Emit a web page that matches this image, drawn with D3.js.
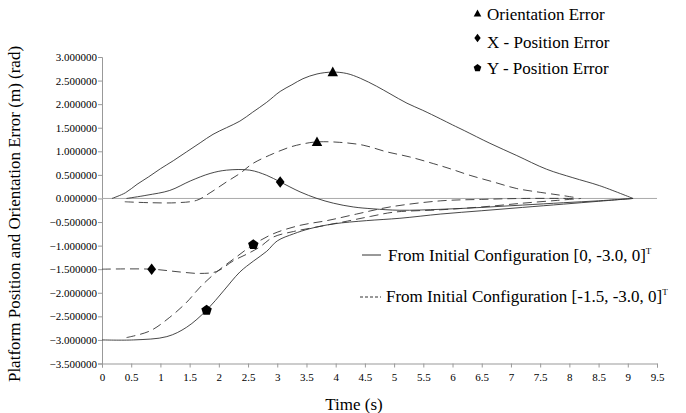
<!DOCTYPE html>
<html>
<head>
<meta charset="utf-8">
<script src="https://cdn.jsdelivr.net/npm/d3@7"></script>
<style>
  body { margin: 0; background: #fff; }
  text { font-family: "Liberation Serif", "Times New Roman", serif; fill: #000; }
</style>
</head>
<body>
<script>

// time (s), error value
const orientationA = [[0.17,0],[0.4,0.12],[0.6,0.3],[0.8,0.46],[1.0,0.63],[1.22,0.8],[1.45,0.99],[1.68,1.18],[1.9,1.36],[2.13,1.5],[2.36,1.64],[2.58,1.83],[2.82,2.04],[3.05,2.27],[3.25,2.41],[3.44,2.54],[3.68,2.64],[3.95,2.68],[4.19,2.65],[4.42,2.55],[4.7,2.38],[4.93,2.22],[5.22,2.02],[5.49,1.87],[5.79,1.69],[6.0,1.56],[6.2,1.44],[6.64,1.17],[7.1,0.91],[7.61,0.62],[8.06,0.44],[8.52,0.27],[9.09,0]]
const orientationB = [[0.39,-0.07],[0.82,-0.09],[1.28,-0.09],[1.62,-0.04],[1.85,0.12],[2.13,0.35],[2.36,0.53],[2.58,0.74],[2.93,0.95],[3.22,1.09],[3.45,1.16],[3.68,1.2],[4.07,1.19],[4.47,1.13],[4.87,0.99],[5.27,0.88],[5.67,0.74],[5.96,0.63],[6.3,0.49],[6.7,0.35],[7.1,0.21],[7.5,0.13],[7.84,0.07],[8.1,0.02]]
const xErrorA = [[0.42,0],[0.77,0.07],[1.16,0.17],[1.51,0.37],[1.85,0.53],[2.13,0.6],[2.53,0.6],[2.82,0.49],[3.05,0.35],[3.39,0.14],[3.68,0],[3.96,-0.1],[4.3,-0.18],[4.64,-0.22],[5.1,-0.25],[5.8,-0.23],[6.5,-0.19],[7.2,-0.14],[7.9,-0.09],[8.5,-0.05],[9.09,0]]
const xErrorB = [[0,-1.5],[0.85,-1.5],[1.34,-1.56],[1.68,-1.59],[1.96,-1.55],[2.25,-1.32],[2.48,-1.18],[2.7,-1.03],[2.93,-0.82],[3.28,-0.7],[3.7,-0.6],[4.2,-0.48],[4.6,-0.38],[5.0,-0.29],[5.8,-0.24],[6.5,-0.18],[7.2,-0.1],[7.8,-0.04],[8.2,0]]
const yErrorA = [[0,-3.0],[0.54,-3.0],[1.11,-2.93],[1.45,-2.73],[1.79,-2.37],[2.08,-1.96],[2.36,-1.56],[2.59,-1.33],[2.82,-1.12],[3.0,-0.9],[3.28,-0.75],[3.56,-0.64],[3.96,-0.54],[4.53,-0.47],[5.1,-0.42],[5.8,-0.33],[6.5,-0.26],[7.2,-0.19],[7.9,-0.12],[8.5,-0.06],[9.09,0]]
const yErrorB = [[0.42,-2.95],[0.82,-2.81],[1.16,-2.52],[1.45,-2.2],[1.68,-1.88],[1.96,-1.56],[2.3,-1.24],[2.59,-0.98],[2.93,-0.75],[3.39,-0.57],[3.85,-0.47],[4.36,-0.33],[4.93,-0.18],[5.8,-0.05],[6.5,-0.02],[7.2,0],[8.1,0]]

const markerPoints = [
  {shape: "triangle", t: 3.95, v: 2.68},
  {shape: "triangle", t: 3.68, v: 1.2},
  {shape: "diamond", t: 3.05, v: 0.35},
  {shape: "diamond", t: 0.85, v: -1.5},
  {shape: "pentagon", t: 1.79, v: -2.37},
  {shape: "pentagon", t: 2.59, v: -0.98}
]

const xTicks = d3.range(0, 9.51, 0.5)
const yTicks = d3.range(-3.5, 3.01, 0.5)
const markerLegend = ["Orientation Error", "X - Position Error", "Y - Position Error"]
const markerShapes = ["triangle", "diamond", "pentagon"]
const lineLegend = ["From Initial Configuration [0, -3.0, 0]", "From Initial Configuration [-1.5, -3.0, 0]"]

const width = 686, height = 413
const serif = '"Liberation Serif", "Times New Roman", serif'
const svg = d3.select("body").append("svg").attr("width", width).attr("height", height)

const x = d3.scaleLinear().domain([0, 9.5]).range([102, 657])
const y = d3.scaleLinear().domain([-3.5, 3]).range([363.5, 57])

// y axis
const yAxis = svg.append("g").attr("transform", "translate(102,0)")
  .call(d3.axisLeft(y).tickValues(yTicks).tickSize(4).tickFormat(d3.format(".6f")))
  .attr("font-family", serif)
yAxis.select(".domain").attr("stroke", "#999")
yAxis.selectAll(".tick line").attr("stroke", "#999")
yAxis.selectAll(".tick text").style("font-size", "11px").attr("x", -5)

// x axis
const xAxis = svg.append("g").attr("transform", "translate(0,363.5)")
  .call(d3.axisBottom(x).tickValues(xTicks).tickSize(4).tickFormat(d3.format("")))
  .attr("font-family", serif)
xAxis.select(".domain").attr("stroke", "#999")
xAxis.selectAll(".tick line").attr("stroke", "#999")
xAxis.selectAll(".tick text").style("font-size", "11px").attr("y", 10)

// zero line
svg.append("line")
  .attr("x1", x(0)).attr("x2", x(9.5))
  .attr("y1", y(0)).attr("y2", y(0))
  .attr("stroke", "#aaa")

const line = d3.line().x(d => x(d[0])).y(d => y(d[1])).curve(d3.curveCatmullRom.alpha(0.5))

const solidSeries = [orientationA, xErrorA, yErrorA]
const dashedSeries = [orientationB, xErrorB, yErrorB]

svg.selectAll("path.solid").data(solidSeries).join("path")
  .attr("class", "solid")
  .attr("d", line)
  .attr("fill", "none")
  .attr("stroke", "#333")
  .attr("stroke-width", 0.9)

svg.selectAll("path.dashed").data(dashedSeries).join("path")
  .attr("class", "dashed")
  .attr("d", line)
  .attr("fill", "none")
  .attr("stroke", "#333")
  .attr("stroke-width", 0.9)
  .attr("stroke-dasharray", "9,5")

function shapePath(shape, s){
  if (shape === "triangle") return `M0,${-s}L${s*0.95},${s*0.75}L${-s*0.95},${s*0.75}Z`
  if (shape === "diamond") return `M0,${-s*1.05}L${s*0.8},0L0,${s*1.05}L${-s*0.8},0Z`
  let pts = d3.range(5).map(i => {
    let a = -Math.PI / 2 + i * 2 * Math.PI / 5
    return [Math.cos(a) * s, Math.sin(a) * s]
  })
  return "M" + pts.join("L") + "Z"
}

svg.selectAll("path.marker").data(markerPoints).join("path")
  .attr("class", "marker")
  .attr("transform", d => getTranslateString(x(d.t), y(d.v)))
  .attr("d", d => shapePath(d.shape, 5.5))
  .attr("fill", "#000")

// marker legend
const legTop = svg.append("g")
legTop.selectAll("path").data(markerShapes).join("path")
  .attr("transform", (d, i) => getTranslateString(477.5, [13.5, 38, 68][i]))
  .attr("d", d => shapePath(d, 4))
  .attr("fill", "#000")
legTop.selectAll("text").data(markerLegend).join("text")
  .attr("x", 487)
  .attr("y", (d, i) => [19.5, 48, 74][i])
  .style("font-size", "17px")
  .text(d => d)

// line legend
const legLines = svg.append("g")
legLines.selectAll("line").data(lineLegend).join("line")
  .attr("x1", (d, i) => [362, 360][i])
  .attr("x2", 381)
  .attr("y1", (d, i) => [255, 297][i])
  .attr("y2", (d, i) => [255, 297][i])
  .attr("stroke", "#333")
  .attr("stroke-dasharray", (d, i) => i ? "3,2" : null)
const legText = legLines.selectAll("text").data(lineLegend).join("text")
  .attr("x", (d, i) => [388, 386][i])
  .attr("y", (d, i) => [261, 302][i])
  .style("font-size", "17px")
legText.append("tspan").text(d => d)
legText.append("tspan").attr("dy", -7).style("font-size", "9px").text("T")

// axis titles
svg.append("text")
  .attr("x", 354).attr("y", 410)
  .attr("text-anchor", "middle")
  .style("font-size", "17px")
  .text("Time (s)")

svg.append("text")
  .attr("transform", getTranslateString(20, 214) + " rotate(-90)")
  .attr("text-anchor", "middle")
  .style("font-size", "17px")
  .text("Platform Position and Orientation Error (m) (rad)")

function getTranslateString(x, y){
  return 'translate(' + x + ',' + y + ')'
}
</script>
</body>
</html>
